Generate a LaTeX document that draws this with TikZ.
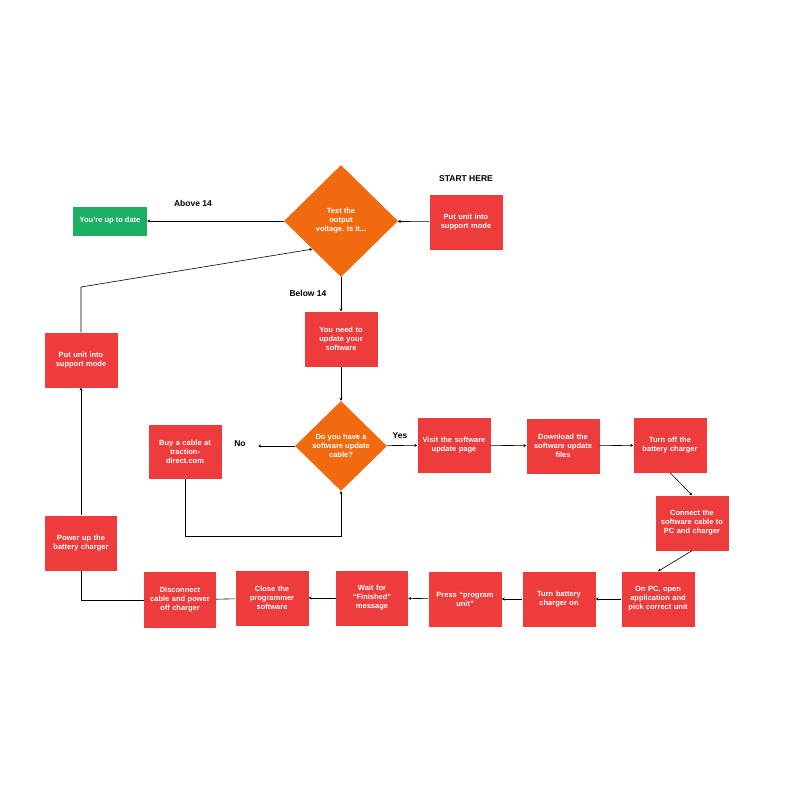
\documentclass[tikz,border=0pt]{standalone}
\usepackage{fontspec}
\setmainfont{Liberation Sans}
\usetikzlibrary{shapes.geometric,arrows.meta}
\definecolor{rbox}{HTML}{EE3B3B}
\definecolor{obox}{HTML}{F26A10}
\definecolor{gbox}{HTML}{1DAF63}
\begin{document}
\begin{tikzpicture}[x=1pt,y=-1pt,
  box/.style={fill=rbox,minimum width=73pt,minimum height=55pt,text width=70pt,align=center,text=white,font=\fontsize{7.5}{9}\selectfont\bfseries,inner sep=1pt},
  dia/.style={diamond,fill=obox,inner sep=0pt,text=white,align=center,font=\fontsize{7.5}{9}\selectfont\bfseries},
  lab/.style={font=\fontsize{8.5}{10}\selectfont\bfseries},
  arr/.style={-{Stealth[length=3pt,width=3pt]},line width=0.6pt},
  ln/.style={line width=0.6pt}]
\useasboundingbox (0,0) rectangle (800,800);
\node[fill=gbox,minimum width=74pt,minimum height=29pt,text=white,font=\fontsize{7.5}{9}\selectfont\bfseries,inner sep=1pt] (ok) at (110,221) {You're up to date};
\node[dia,minimum width=114pt,minimum height=112pt] (d1) at (341,221) {Test the\\output\\voltage. Is it...};
\node[box] (start) at (466,222) {Put unit into\\support mode};
\node[lab] (sh) at (466,179) {START HERE};
\node[lab] (a14) at (193,203) {Above 14};
\node[lab] (b14) at (308,293) {Below 14};
\node[box] (upd) at (341,339) {You need to\\update your\\software};
\node[dia,minimum width=92pt,minimum height=90pt] (d2) at (341,446) {Do you have a\\software update\\cable?};
\node[box,minimum height=54pt] (buy) at (185,452) {Buy a cable at\\traction-\\direct.com};
\node[lab] (no) at (240,444) {No};
\coordinate (noend) at (258,446);
\node[lab] (yes) at (400,436) {Yes};
\node[box] (visit) at (454,445) {Visit the software\\update page};
\node[box] (dl) at (563,446) {Download the\\software update\\files};
\node[box] (off) at (670,445) {Turn off the\\battery charger};
\node[box] (con) at (692,523) {Connect the\\software cable to\\PC and charger};
\node[box] (pc) at (658,599) {On PC, open\\application and\\pick correct unit};
\node[box] (on) at (559,599) {Turn battery\\charger on};
\node[box] (press) at (465,599) {Press ``program\\unit''};
\node[box,minimum width=68pt] (wait) at (372,598) {Wait for\\``Finished''\\message};
\node[box] (close) at (272,598) {Close the\\programmer\\software};
\node[box,minimum width=71pt,minimum height=56pt] (disc) at (180,600) {Disconnect\\cable and power\\off charger};
\node[box,minimum width=72pt] (pow) at (81,543) {Power up the\\battery charger};
\node[box] (sup) at (81,360) {Put unit into\\support mode};
\draw[arr] (start) -- (d1);
\draw[arr] (d1) -- (ok);
\draw[arr] (d1) -- (upd);
\draw[arr] (upd) -- (d2);
\draw[arr] (d2) -- (noend);
\draw[arr] (d2) -- (visit);
\draw[arr] (buy.south) -- ++(0,57) -| (d2.south);
\draw[arr] (visit) -- (dl);
\draw[arr] (dl) -- (off);
\draw[arr] (off.south) -- (con.north);
\draw[arr] (con.south) -- (pc.north);
\draw[arr] (pc) -- (on);
\draw[arr] (on) -- (press);
\draw[arr] (press) -- (wait);
\draw[arr] (wait) -- (close);
\draw[ln] (close) -- (disc);
\draw[ln] (disc.west) -| (pow.south);
\draw[arr] (pow) -- (sup);
\draw[arr] (sup.north) -- (81,287) -- (d1.south west);
\end{tikzpicture}
\end{document}
